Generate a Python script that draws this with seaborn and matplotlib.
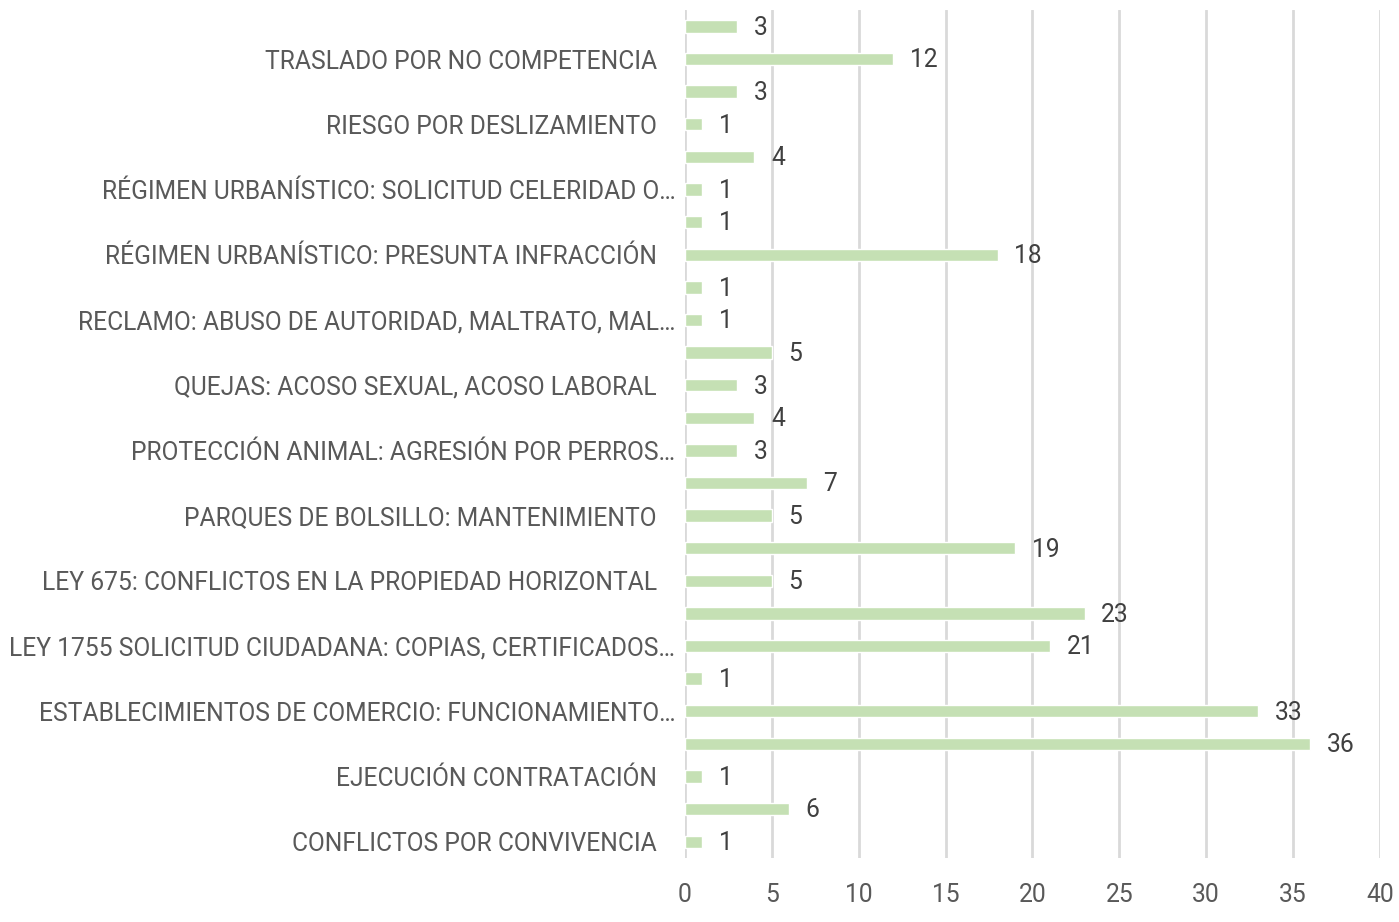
import matplotlib
matplotlib.use("Agg")
import matplotlib.pyplot as plt
import seaborn as sns
import pandas as pd

# categories from top to bottom; Excel only shows every other label
labels = [
    "", "TRASLADO POR NO COMPETENCIA", "", "RIESGO POR DESLIZAMIENTO",
    "", "RÉGIMEN URBANÍSTICO: SOLICITUD CELERIDAD O…",
    "", "RÉGIMEN URBANÍSTICO: PRESUNTA INFRACCIÓN",
    "", "RECLAMO: ABUSO DE AUTORIDAD, MALTRATO, MAL…",
    "", "QUEJAS: ACOSO SEXUAL, ACOSO LABORAL",
    "", "PROTECCIÓN ANIMAL: AGRESIÓN POR PERROS…",
    "", "PARQUES DE BOLSILLO: MANTENIMIENTO",
    "", "LEY 675: CONFLICTOS EN LA PROPIEDAD HORIZONTAL",
    "", "LEY 1755 SOLICITUD CIUDADANA: COPIAS, CERTIFICADOS…",
    "", "ESTABLECIMIENTOS DE COMERCIO: FUNCIONAMIENTO…",
    "", "EJECUCIÓN CONTRATACIÓN",
    "", "CONFLICTOS POR CONVIVENCIA",
]
values = [3, 12, 3, 1, 4, 1, 1, 18, 1, 1, 5, 3, 4, 3, 7, 5,
          19, 5, 23, 21, 1, 33, 36, 1, 6, 1]

keys = [f"c{i}" for i in range(len(labels))]
df = pd.DataFrame({"cat": keys, "val": values})

sns.set_style("white")
plt.rcParams["font.family"] = ["Roboto", "DejaVu Sans"]

fig = plt.figure(figsize=(13.99, 9.22), dpi=100)
ax = fig.add_axes([0.4896, 0.0694, 0.4968, 0.9196])

sns.barplot(data=df, y="cat", x="val", color="#c5e0b4", saturation=1,
            width=0.38, ax=ax, orient="h")

ax.set_xlim(0, 40)
ax.set_xticks(range(0, 41, 5))
ax.set_ylim(len(labels) - 0.5, -0.5)
ax.xaxis.grid(True, color="#d9d9d9", linewidth=2)
ax.set_axisbelow(True)
for s in ax.spines.values():
    s.set_visible(False)

ax.set_yticks(range(len(labels)))
ax.set_yticklabels([l if (l == "" or l.endswith("…")) else l + "   " for l in labels],
                   fontsize=17.7, color="#595959")
ax.tick_params(axis="y", length=0, pad=7)
ax.tick_params(axis="x", length=0, pad=18, labelsize=17.7, labelcolor="#595959")
ax.set_xlabel("")
ax.set_ylabel("")

for i, v in enumerate(values):
    ax.annotate(str(v), (v, i), xytext=(12, -1), textcoords="offset points",
                va="center", ha="left", fontsize=17.7, color="#404040")

fig.savefig("out.png", dpi=100)
